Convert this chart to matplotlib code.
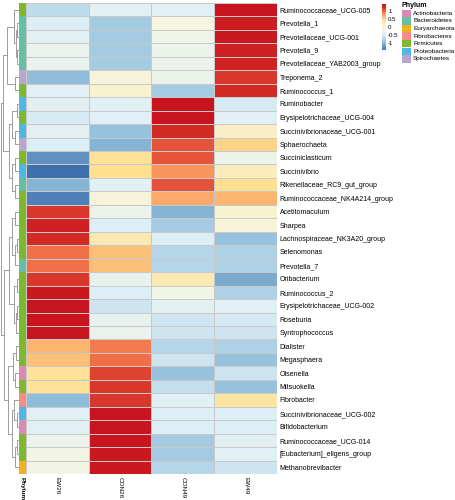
import matplotlib
matplotlib.use("Agg")
import matplotlib.pyplot as plt
import numpy as np
from matplotlib.colors import LinearSegmentedColormap, ListedColormap, Normalize
from matplotlib.patches import Rectangle

plt.rcParams['font.family'] = ['Liberation Sans', 'DejaVu Sans']

# ---------------- data ----------------
genera = [
    "Ruminococcaceae_UCG-005", "Prevotella_1", "Prevotellaceae_UCG-001", "Prevotella_9",
    "Prevotellaceae_YAB2003_group", "Treponema_2", "Ruminococcus_1", "Ruminobacter",
    "Erysipelotrichaceae_UCG-004", "Succinivibrionaceae_UCG-001", "Sphaerochaeta",
    "Succiniclasticum", "Succinivibrio", "Rikenellaceae_RC9_gut_group",
    "Ruminococcaceae_NK4A214_group", "Acetitomaculum", "Sharpea",
    "Lachnospiraceae_NK3A20_group", "Selenomonas", "Prevotella_7", "Oribacterium",
    "Ruminococcus_2", "Erysipelotrichaceae_UCG-002", "Roseburia", "Syntrophococcus",
    "Dialister", "Megasphaera", "Olsenella", "Mitsuokella", "Fibrobacter",
    "Succinivibrionaceae_UCG-002", "Bifidobacterium", "Ruminococcaceae_UCG-014",
    "[Eubacterium]_eligens_group", "Methanobrevibacter",
]
samples = ["EW26", "CON26", "CON49", "EW49"]

ew26 = [-0.70, -0.50, -0.40, -0.25, -0.25, -1.00, -0.45, -0.40, -0.55, -0.40, -0.50,
        -1.25, -1.45, -1.05, -1.35, 1.15, 1.30, 1.20, 0.95, 0.95, 1.15,
        1.40, 1.45, 1.45, 1.45, 0.65, 0.60, 0.40, 0.40, -1.00,
        -0.45, -0.45, -0.20, -0.05, -0.05]
con26 = [-0.40, -0.85, -0.85, -0.85, -0.85, 0.05, 0.10, -0.45, -0.45, -0.95, -1.05,
         0.40, 0.45, -0.45, 0.05, -0.20, -0.50, 0.25, 0.60, 0.60, -0.30,
         -0.50, -0.60, -0.30, -0.25, 0.90, 0.95, 1.10, 1.15, 1.15,
         1.45, 1.45, 1.45, 1.40, 1.40]
con49 = [-0.45, 0.00, -0.15, -0.20, -0.20, -0.20, -0.85, 1.45, 1.45, 1.20, 1.05,
         1.05, 0.80, 1.05, 0.70, -1.05, -0.85, -0.50, -0.75, -0.75, 0.25,
         -0.10, -0.40, -0.60, -0.60, -0.75, -0.60, -0.95, -0.65, -0.45,
         -0.50, -0.50, -0.85, -0.85, -0.75]
ew49 = [1.45, 1.35, 1.40, 1.30, 1.30, 1.15, 1.20, -0.55, -0.45, 0.15, 0.50,
        -0.20, 0.20, 0.45, 0.65, 0.10, 0.05, -0.95, -0.80, -0.80, -1.10,
        -0.80, -0.45, -0.55, -0.60, -0.80, -0.95, -0.60, -0.95, 0.35,
        -0.50, -0.50, -0.40, -0.45, -0.60]

phylum = [
    "Firmicutes", "Bacteroidetes", "Bacteroidetes", "Bacteroidetes", "Bacteroidetes",
    "Spirochaetes", "Firmicutes", "Proteobacteria", "Firmicutes", "Proteobacteria",
    "Spirochaetes", "Firmicutes", "Proteobacteria", "Bacteroidetes", "Firmicutes",
    "Firmicutes", "Firmicutes", "Firmicutes", "Firmicutes", "Bacteroidetes",
    "Firmicutes", "Firmicutes", "Firmicutes", "Firmicutes", "Firmicutes",
    "Firmicutes", "Firmicutes", "Actinobacteria", "Firmicutes", "Fibrobacteres",
    "Proteobacteria", "Actinobacteria", "Firmicutes", "Firmicutes", "Euryarchaeota",
]
phylum_names = ["Actinobacteria", "Bacteroidetes", "Euryarchaeota", "Fibrobacteres",
                "Firmicutes", "Proteobacteria", "Spirochaetes"]
phylum_colors = ["#D98BB7", "#66BFA3", "#F0B21E", "#F58D84", "#7DB82E", "#4FB9E5", "#B9A6CE"]

# row dendrogram: (child a, child b, height); leaves 0..34, new nodes 35..
linkage = [
    (1, 2, 1.5), (3, 4, 1.5), (35, 36, 2.5), (0, 37, 4.0), (5, 6, 3.0), (38, 39, 11.0),
    (7, 8, 2.0), (9, 10, 3.0), (41, 42, 6.0), (11, 12, 3.0), (13, 14, 3.5), (44, 45, 6.5),
    (43, 46, 9.0), (40, 47, 15.0),
    (15, 16, 3.0), (17, 18, 2.0), (50, 19, 3.0), (49, 51, 6.0), (20, 21, 2.0),
    (22, 23, 1.5), (54, 24, 2.5), (53, 55, 4.5), (52, 56, 9.0),
    (25, 26, 2.5), (27, 28, 3.0), (58, 59, 5.5), (30, 31, 1.5), (29, 61, 4.0),
    (32, 33, 2.0), (63, 34, 3.0), (62, 64, 6.0), (60, 65, 10.0), (57, 66, 14.0),
    (48, 67, 17.0),
]

# ---------------- layout ----------------
W, H = 456, 500
fig = plt.figure(figsize=(W / 100, H / 100), dpi=100)


def add_ax(x0, y0, x1, y1):
    return fig.add_axes([x0 / W, 1 - y1 / H, (x1 - x0) / W, (y1 - y0) / H])


top, bot = 3, 474
mat = np.column_stack([ew26, con26, con49, ew49])
n = len(genera)

vmin, vmax = -1.45, 1.45
nodes = [(-1.45, "#3F70AE"), (-1.0, "#8FBDDA"), (-0.5, "#DDEFF6"), (0.0, "#F6F6E2"),
         (0.45, "#FEE08E"), (0.85, "#FA8A56"), (1.2, "#D42A25"), (1.45, "#C8141E")]
cmap = LinearSegmentedColormap.from_list(
    "ph", [((v - vmin) / (vmax - vmin), c) for v, c in nodes])
norm = Normalize(vmin=vmin, vmax=vmax)

ax = add_ax(26, top, 277, bot)
mesh = ax.pcolormesh(mat, cmap=cmap, norm=norm, edgecolors="#C9C9C9", linewidth=0.5)
ax.set_xlim(0, 4)
ax.set_ylim(n, 0)
ax.yaxis.tick_right()
ax.set_yticks(np.arange(n) + 0.5)
ax.set_yticklabels(genera, fontsize=5.0)
ax.set_xticks(np.arange(4) + 0.5)
ax.set_xticklabels(samples, fontsize=4.6, rotation=270)
ax.tick_params(axis="y", length=0, pad=1.8)
ax.tick_params(axis="x", length=0, pad=2.5)
for s in ax.spines.values():
    s.set_visible(False)

# phylum annotation bar
axp = add_ax(19, top, 25.6, bot)
idx = np.array([phylum_names.index(p) for p in phylum]).reshape(-1, 1)
axp.pcolormesh(idx, cmap=ListedColormap(phylum_colors), vmin=-0.5, vmax=len(phylum_names) - 0.5)
axp.set_xlim(0, 1)
axp.set_ylim(n, 0)
axp.set_xticks([0.5])
axp.set_xticklabels(["Phylum"], fontsize=4.6, rotation=270, fontweight="bold")
axp.set_yticks([])
axp.tick_params(length=0, pad=2.5)
for s in axp.spines.values():
    s.set_visible(False)

# dendrogram
axd = add_ax(0, top, 18.6, bot)
pos = {i: i + 0.5 for i in range(n)}
hgt = {i: 0.0 for i in range(n)}
for k, (a, b, h) in enumerate(linkage):
    node = n + k
    ya, yb = pos[a], pos[b]
    axd.plot([hgt[a], h, h, hgt[b]], [ya, ya, yb, yb], color="#8E8E8E", lw=0.6,
             solid_capstyle="butt")
    pos[node] = (ya + yb) / 2
    hgt[node] = h
axd.set_xlim(18.0, 0)
axd.set_ylim(n, 0)
axd.axis("off")

# colour bar
axc = add_ax(382, 3.5, 386.5, 50)
cb = fig.colorbar(mesh, cax=axc, ticks=[-1, -0.5, 0, 0.5, 1])
cb.ax.set_yticklabels(["-1", "-0.5", "0", "0.5", "1"], fontsize=4.4)
cb.ax.tick_params(length=0, pad=1.2)
cb.outline.set_visible(False)

# phylum legend
axl = add_ax(398, 0, 456, 80)
axl.set_xlim(398, 456)
axl.set_ylim(80, 0)
axl.axis("off")
axl.text(402, 5.5, "Phylum", fontsize=5.0, fontweight="bold", va="center", ha="left")
for i, (nm, c) in enumerate(zip(phylum_names, phylum_colors)):
    y0 = 9.5 + i * 7.6
    axl.add_patch(Rectangle((402, y0), 9, 7.6, facecolor=c, edgecolor="none"))
    axl.text(413, y0 + 3.8, nm, fontsize=4.6, va="center", ha="left")

fig.savefig("out.png", dpi=100)
